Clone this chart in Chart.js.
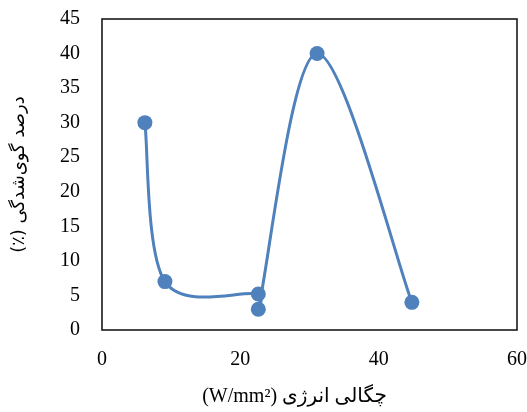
<!DOCTYPE html>
<html>
<head>
<meta charset="utf-8">
<script src="https://cdn.jsdelivr.net/npm/chart.js@4.4.1/dist/chart.umd.min.js"></script>
<style>
  html, body { margin: 0; padding: 0; background: #ffffff; }
  #wrap { width: 527px; height: 412px; }
</style>
</head>
<body>
<div id="wrap"><canvas id="c" width="527" height="412"></canvas></div>
<script>
// Energy density (W/mm²) vs. balling percentage (%)
const energyDensity = [6.2, 9.1, 22.6, 22.6, 31.1, 44.8];
const ballingPercent = [30, 7, 5.2, 3, 40, 4];
const xTicks = [0, 20, 40, 60];
const yTicks = [0, 5, 10, 15, 20, 25, 30, 35, 40, 45];
const xTitle = "(W/mm²) چگالی انرژی\u00A0\u00A0\u00A0\u00A0\u00A0\u00A0";
const yTitle = "(٪) درصد گوی‌شدگی";

const blue = '#4F81BD';
const mainPts = energyDensity.map((x, i) => ({ x: x, y: ballingPercent[i] }));

const frame = {
  id: 'frame',
  beforeDatasetsDraw(chart) {
    const a = chart.chartArea;
    const ctx = chart.ctx;
    ctx.save();
    ctx.strokeStyle = '#1a1a1a';
    ctx.lineWidth = 1.6;
    ctx.strokeRect(a.left, a.top, a.right - a.left, a.bottom - a.top);
    ctx.restore();
  }
};

// Spreadsheet-style smoothing: Bezier handles along (next - prev),
// length min(d(prev,next)/6, segment/2), computed from the scaled points.
const smoothing = {
  id: 'smoothing',
  afterDatasetsUpdate(chart) {
    const meta = chart.getDatasetMeta(0);
    const pts = meta.data;
    const n = pts.length;
    const d = (a, b) => Math.hypot(b.x - a.x, b.y - a.y);
    for (let i = 0; i < n - 1; i++) {
      const p0 = pts[i > 0 ? i - 1 : i];
      const p1 = pts[i];
      const p2 = pts[i + 1];
      const p3 = pts[i + 2 < n ? i + 2 : i + 1];
      const d12 = d(p1, p2), d02 = d(p0, p2), d13 = d(p1, p3);
      const l1 = d02 > 0 ? Math.min(d02 / 6, d12 / 2) / d02 : 0;
      const l2 = d13 > 0 ? Math.min(d13 / 6, d12 / 2) / d13 : 0;
      p1.cp2x = p1.x + (p2.x - p0.x) * l1;
      p1.cp2y = p1.y + (p2.y - p0.y) * l1;
      p2.cp1x = p2.x - (p3.x - p1.x) * l2;
      p2.cp1y = p2.y - (p3.y - p1.y) * l2;
    }
    if (meta.dataset) meta.dataset._pointsUpdated = true;
  }
};

function zeroPad(s) {
  s.paddingLeft = 0; s.paddingRight = 0; s.paddingTop = 0; s.paddingBottom = 0;
}

new Chart(document.getElementById('c'), {
  type: 'scatter',
  data: {
    datasets: [
      {
        data: mainPts,
        showLine: true,
        borderColor: blue,
        backgroundColor: blue,
        borderWidth: 3,
        pointRadius: 7.5,
        pointHoverRadius: 7.5,
        pointBorderWidth: 0,
        tension: 0.4,
        cubicInterpolationMode: 'default'
      }
    ]
  },
  options: {
    responsive: false,
    animation: false,
    events: [],
    layout: { padding: { top: 19, right: 10, left: 0, bottom: 0 } },
    plugins: {
      legend: { display: false },
      tooltip: { enabled: false }
    },
    scales: {
      x: {
        type: 'linear',
        min: 0, max: 60,
        afterBuildTicks(s) { s.ticks = xTicks.map(v => ({ value: v })); },
        afterFit(s) { s.height = 82; zeroPad(s); },
        grid: { display: false, drawTicks: false },
        border: { display: false },
        ticks: {
          color: '#000',
          padding: 18,
          font: { family: "'Liberation Serif', 'Times New Roman', serif", size: 20 }
        },
        title: {
          display: true,
          text: xTitle,
          color: '#000',
          padding: { top: 0, bottom: 3 },
          font: { family: "'Liberation Serif', 'DejaVu Sans', serif", size: 20 }
        }
      },
      y: {
        type: 'linear',
        min: 0, max: 45,
        afterBuildTicks(s) { s.ticks = yTicks.map(v => ({ value: v })); },
        afterFit(s) { s.width = 102; zeroPad(s); },
        grid: { display: false, drawTicks: false },
        border: { display: false },
        ticks: {
          color: '#000',
          padding: 22,
          font: { family: "'Liberation Serif', 'Times New Roman', serif", size: 20 }
        },
        title: {
          display: true,
          text: yTitle,
          color: '#000',
          padding: { top: 9, bottom: 0 },
          font: { family: "'DejaVu Sans', serif", size: 18 }
        }
      }
    }
  },
  plugins: [frame, smoothing]
});
</script>
</body>
</html>
